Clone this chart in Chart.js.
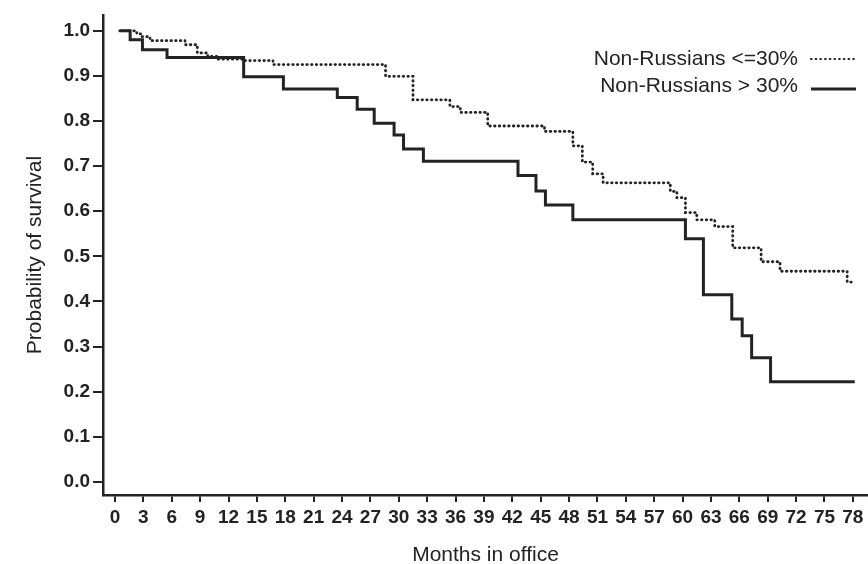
<!DOCTYPE html>
<html>
<head>
<meta charset="utf-8">
<script src="https://cdn.jsdelivr.net/npm/chart.js@4/dist/chart.umd.min.js"></script>
<style>
  html, body { margin: 0; padding: 0; background: #ffffff; }
  #wrap { width: 868px; height: 564px; position: relative; }
</style>
</head>
<body>
<div id="wrap"><canvas id="c" width="868" height="564"></canvas></div>
<script>
// ---- Data ----
const seriesNames = ['Non-Russians <=30%', 'Non-Russians > 30%'];

// Non-Russians <= 30% (dotted)
const lowMonths = [0.5, 2.3, 2.8, 3.7, 7.4, 8.7, 9.8, 10.8, 13.7, 16.7, 28.6, 31.5, 35.4, 36.5, 39.4, 45.4, 48.4, 49.4, 50.5, 51.6, 58.7, 59.4, 60.3, 61.5, 63.4, 65.3, 68.3, 70.3, 77.4, 78.2];
const lowSurv   = [1.000, 0.993, 0.987, 0.978, 0.969, 0.951, 0.943, 0.937, 0.934, 0.925, 0.899, 0.847, 0.832, 0.819, 0.789, 0.777, 0.745, 0.709, 0.683, 0.663, 0.644, 0.630, 0.597, 0.581, 0.566, 0.519, 0.488, 0.467, 0.443, 0.443];

// Non-Russians > 30% (solid)
const highMonths = [0.5, 1.6, 2.9, 5.5, 13.6, 17.8, 23.5, 25.6, 27.4, 29.5, 30.5, 32.6, 42.6, 44.5, 45.5, 48.4, 60.3, 62.2, 65.2, 66.3, 67.3, 69.3, 78.2];
const highSurv   = [1.000, 0.980, 0.958, 0.941, 0.898, 0.871, 0.852, 0.826, 0.795, 0.769, 0.738, 0.711, 0.679, 0.645, 0.614, 0.581, 0.539, 0.415, 0.361, 0.324, 0.275, 0.222, 0.222];

const xTicks = [0, 3, 6, 9, 12, 15, 18, 21, 24, 27, 30, 33, 36, 39, 42, 45, 48, 51, 54, 57, 60, 63, 66, 69, 72, 75, 78];
const xTickLabels = xTicks.map(String);
const yTicks = [0, 0.1, 0.2, 0.3, 0.4, 0.5, 0.6, 0.7, 0.8, 0.9, 1.0];
const yTickLabels = ['0.0', '0.1', '0.2', '0.3', '0.4', '0.5', '0.6', '0.7', '0.8', '0.9', '1.0'];

const xTitle = 'Months in office';
const yTitle = 'Probability of survival';

// ---- Chart ----
const INK = '#232323';
const FONT = "'Liberation Sans', Arial, Helvetica, sans-serif";
const DOTS = [0.5, 4.2];

const toPoints = (xs, ys) => xs.map((x, i) => ({ x: x, y: ys[i] }));

const legendPlugin = {
  id: 'rightLegend',
  afterDraw(chart) {
    const ctx = chart.ctx;
    const ds = chart.data.datasets;
    const textRight = 798, lineX0 = 811, lineX1 = 856;
    const rows = [59, 86];
    ctx.save();
    ctx.font = '21px ' + FONT;
    ctx.fillStyle = INK;
    ctx.textAlign = 'right';
    ctx.textBaseline = 'middle';
    ds.forEach((d, i) => {
      const y = rows[i];
      ctx.fillText(d.label, textRight, y);
      ctx.beginPath();
      ctx.strokeStyle = d.borderColor;
      ctx.lineWidth = i === 0 ? 2.2 : 3;
      ctx.lineCap = i === 0 ? 'round' : 'butt';
      ctx.setLineDash(d.borderDash || []);
      const ly = i === 0 ? y : y + 3;
      ctx.moveTo(lineX0, ly);
      ctx.lineTo(lineX1, ly);
      ctx.stroke();
    });
    ctx.restore();
  }
};

new Chart(document.getElementById('c'), {
  type: 'line',
  data: {
    datasets: [
      {
        label: seriesNames[0],
        data: toPoints(lowMonths, lowSurv),
        stepped: 'before',
        borderColor: INK,
        borderWidth: 2.8,
        borderDash: DOTS,
        borderCapStyle: 'round',
        pointRadius: 0,
        fill: false
      },
      {
        label: seriesNames[1],
        data: toPoints(highMonths, highSurv),
        stepped: 'before',
        borderColor: INK,
        borderWidth: 3,
        pointRadius: 0,
        fill: false
      }
    ]
  },
  options: {
    responsive: false,
    animation: false,
    devicePixelRatio: 1,
    layout: { padding: { top: 15, right: 0, left: 0, bottom: 0 } },
    plugins: {
      legend: { display: false },
      tooltip: { enabled: false }
    },
    scales: {
      x: {
        type: 'linear',
        min: -1.27,
        max: 79.6,
        afterBuildTicks: (s) => { s.ticks = xTicks.map(v => ({ value: v })); },
        afterFit: (s) => { s.height = 69; },
        ticks: {
          autoSkip: false,
          maxRotation: 0,
          minRotation: 0,
          padding: 4,
          color: INK,
          font: { family: FONT, size: 19, weight: 'bold' },
          callback: (v, i) => xTickLabels[i]
        },
        grid: {
          drawOnChartArea: false,
          drawTicks: true,
          tickLength: 7,
          color: INK,
          lineWidth: 2
        },
        border: { display: true, color: INK, width: 2.5 },
        title: {
          display: true,
          text: xTitle,
          color: INK,
          font: { family: FONT, size: 21, lineHeight: 0.86 },
          padding: { top: 0, bottom: 0 }
        }
      },
      y: {
        type: 'linear',
        min: -0.029,
        max: 1.035,
        afterBuildTicks: (s) => { s.ticks = yTicks.map(v => ({ value: v })); },
        afterFit: (s) => { s.width = 103; },
        ticks: {
          autoSkip: false,
          padding: 3,
          color: INK,
          font: { family: FONT, size: 19, weight: 'bold' },
          callback: (v, i) => yTickLabels[i]
        },
        grid: {
          drawOnChartArea: false,
          drawTicks: true,
          tickLength: 10,
          color: INK,
          lineWidth: 2
        },
        border: { display: true, color: INK, width: 2.5 },
        title: {
          display: true,
          text: yTitle,
          color: INK,
          font: { family: FONT, size: 21 },
          padding: { top: 23, bottom: 0 }
        }
      }
    }
  },
  plugins: [legendPlugin]
});
</script>
</body>
</html>
